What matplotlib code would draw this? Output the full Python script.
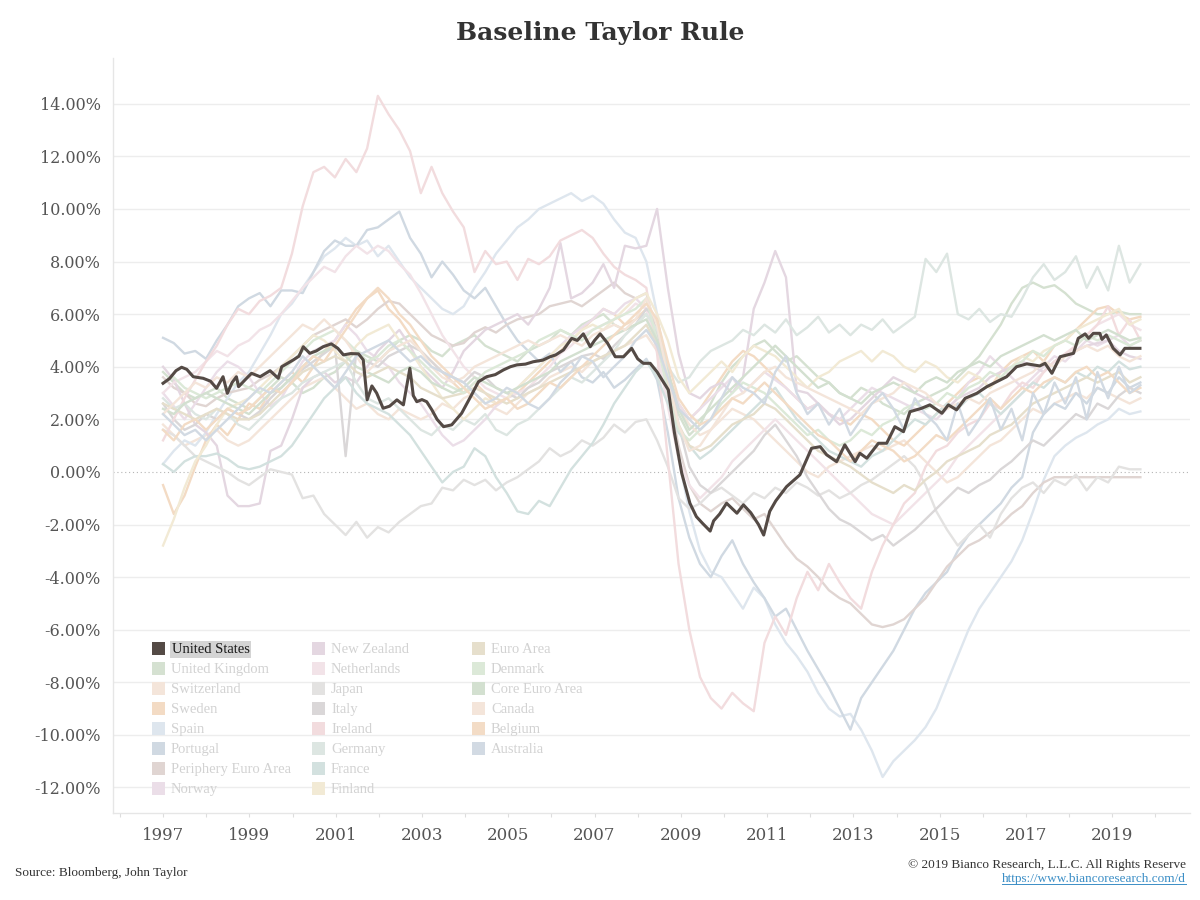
"""Baseline Taylor Rule - US highlighted against 21 faded peer economies."""
import numpy as np
import matplotlib
matplotlib.use("Agg")
import matplotlib.pyplot as plt
from matplotlib.patches import Rectangle
from matplotlib.lines import Line2D

SERIF = ["DejaVu Serif"]
LSERIF = ["Liberation Serif", "DejaVu Serif"]

# --- data (% rates) -----------------------------------------------------
US_YEARS = [1997.00, 1997.15, 1997.30, 1997.43, 1997.55, 1997.70, 1997.93, 1998.10,
            1998.24, 1998.39, 1998.49, 1998.60, 1998.70, 1998.75, 1998.90, 1999.05,
            1999.25, 1999.48, 1999.67, 1999.75, 2000.02, 2000.15, 2000.25, 2000.40,
            2000.55, 2000.71, 2000.90, 2001.05, 2001.18, 2001.35, 2001.53, 2001.64,
            2001.73, 2001.84, 2001.95, 2002.10, 2002.25, 2002.42, 2002.57, 2002.72,
            2002.80, 2002.88, 2003.00, 2003.11, 2003.23, 2003.35, 2003.50, 2003.69,
            2003.92, 2004.15, 2004.31, 2004.50, 2004.70, 2004.89, 2005.05, 2005.20,
            2005.40, 2005.58, 2005.80, 2005.97, 2006.10, 2006.28, 2006.47, 2006.60,
            2006.74, 2006.90, 2007.00, 2007.13, 2007.30, 2007.48, 2007.67, 2007.86,
            2008.00, 2008.13, 2008.29, 2008.45, 2008.71, 2008.85, 2009.02, 2009.21,
            2009.36, 2009.50, 2009.68, 2009.76, 2009.90, 2010.06, 2010.30, 2010.45,
            2010.62, 2010.80, 2010.92, 2011.06, 2011.20, 2011.45, 2011.76, 2012.03,
            2012.23, 2012.38, 2012.61, 2012.80, 2013.04, 2013.15, 2013.31, 2013.58,
            2013.77, 2013.96, 2014.16, 2014.31, 2014.58, 2014.77, 2015.05, 2015.20,
            2015.39, 2015.59, 2015.86, 2016.09, 2016.32, 2016.55, 2016.78, 2017.02,
            2017.32, 2017.44, 2017.60, 2017.79, 2018.10, 2018.21, 2018.37, 2018.45,
            2018.56, 2018.71, 2018.76, 2018.86, 2019.02, 2019.18, 2019.29, 2019.64]
US_VALUES = [3.37, 3.55, 3.85, 3.98, 3.90, 3.62, 3.56, 3.45,
             3.18, 3.62, 2.99, 3.40, 3.62, 3.24, 3.50, 3.75,
             3.62, 3.85, 3.56, 4.00, 4.26, 4.40, 4.76, 4.51,
             4.60, 4.76, 4.87, 4.70, 4.45, 4.50, 4.49, 4.26,
             2.74, 3.27, 3.00, 2.42, 2.50, 2.74, 2.55, 3.94,
             2.90, 2.67, 2.75, 2.67, 2.36, 2.00, 1.72, 1.79,
             2.23, 2.93, 3.43, 3.62, 3.70, 3.88, 4.00, 4.07,
             4.10, 4.19, 4.25, 4.38, 4.45, 4.64, 5.08, 5.00,
             5.25, 4.76, 5.00, 5.25, 4.90, 4.38, 4.38, 4.70,
             4.30, 4.13, 4.13, 3.80, 3.12, 1.50, -0.04, -1.19,
             -1.70, -1.95, -2.25, -1.86, -1.60, -1.19, -1.57, -1.25,
             -1.55, -2.00, -2.40, -1.50, -1.10, -0.56, -0.11, 0.90,
             0.96, 0.65, 0.39, 1.03, 0.39, 0.71, 0.52, 1.09,
             1.09, 1.72, 1.53, 2.29, 2.42, 2.55, 2.23, 2.55,
             2.36, 2.80, 2.99, 3.24, 3.43, 3.62, 4.00, 4.11,
             4.03, 4.13, 3.75, 4.38, 4.51, 5.08, 5.25, 5.08,
             5.27, 5.27, 5.04, 5.21, 4.70, 4.45, 4.70, 4.70]

# peers: quarterly readings, 1997 Q1 .. 2019 Q3 (4 per row = one year)
UNITED_KINGDOM = [3.8, 3.4, 3.0, 2.8,  3.0, 3.2, 2.8, 2.6,  2.4, 2.8, 3.2, 3.6,  3.4, 3.0, 3.2, 3.6,
                  3.8, 4.2, 4.6, 4.4,  4.2, 4.6, 5.0, 5.2,  5.0, 4.6, 4.4, 4.8,  5.0, 5.2, 4.8, 4.6,
                  4.4, 4.2, 4.6, 4.8,  5.0, 5.4, 5.2, 5.6,  5.8, 6.0, 5.6, 5.4,  5.6, 6.0, 5.2, 3.6,
                  2.2, 1.4, 1.8, 2.6,  3.4, 4.0, 4.4, 4.8,  5.0, 4.6, 4.2, 4.4,  4.0, 3.6, 3.4, 3.0,
                  2.8, 3.2, 3.0, 2.6,  2.4, 2.2, 2.6, 2.8,  3.0, 3.2, 3.6, 4.0,  4.4, 5.0, 5.6, 6.4,
                  7.0, 7.2, 7.0, 7.1,  6.8, 6.4, 6.2, 6.0,  6.0, 6.1, 6.0, 6.0]
SWITZERLAND = [1.8, 1.4, 1.0, 1.2,  1.4, 1.6, 1.2, 1.0,  1.2, 1.6, 2.0, 2.4,  2.8, 3.2, 3.4, 3.6,
               3.2, 2.8, 2.4, 2.6,  2.2, 2.0, 2.4, 2.2,  2.0, 2.2, 2.6, 2.4,  2.8, 3.0, 2.6, 2.4,
               2.2, 2.6, 3.0, 3.2,  3.6, 3.8, 4.0, 3.8,  4.2, 4.4, 4.6, 4.8,  5.0, 5.2, 4.6, 3.6,
               2.4, 1.8, 1.4, 1.6,  2.0, 2.4, 2.2, 2.0,  1.6, 1.2, 0.8, 0.4,  0.0, -0.2, 0.2, 0.4,
               0.6, 0.8, 1.0, 0.8,  1.0, 1.2, 0.8, 0.4,  0.0, -0.4, -0.2, 0.2,  0.6, 1.0, 1.2, 1.6,
               2.0, 2.4, 2.2, 2.6,  2.8, 3.0, 2.8, 3.2,  3.0, 2.8, 2.6, 2.8]
SWEDEN = [-0.5, -1.6, -0.9, 0.2,  1.2, 1.8, 1.4, 2.0,  2.6, 2.4, 3.0, 3.4,  3.8, 3.4, 4.0, 4.6,
          5.0, 5.6, 6.2, 6.6,  6.9, 6.2, 5.8, 5.2,  4.6, 4.2, 3.8, 3.4,  3.0, 3.4, 3.0, 2.6,
          2.8, 3.0, 3.4, 3.8,  4.2, 4.6, 5.0, 5.4,  5.8, 6.2, 6.0, 5.6,  5.8, 6.2, 5.4, 3.8,
          2.6, 2.0, 2.4, 3.0,  3.6, 4.2, 4.6, 4.4,  4.0, 3.6, 3.2, 2.8,  2.4, 2.6, 2.2, 2.0,
          1.8, 2.2, 2.0, 1.6,  1.2, 1.0, 1.4, 1.8,  2.2, 2.6, 3.0, 3.4,  3.6, 3.2, 3.8, 4.2,
          4.4, 4.6, 4.2, 4.8,  5.0, 5.4, 5.8, 6.2,  6.3, 6.0, 5.8, 5.9]
SPAIN = [0.3, 0.8, 1.2, 1.0,  1.5, 2.2, 2.8, 3.4,  3.8, 4.5, 5.2, 6.0,  6.4, 7.0, 7.6, 8.2,
         8.5, 8.9, 8.6, 8.8,  8.2, 8.6, 8.0, 7.4,  7.0, 6.6, 6.2, 6.0,  6.3, 7.0, 7.6, 8.3,
         8.8, 9.3, 9.6, 10.0,  10.2, 10.4, 10.6, 10.3,  10.5, 10.2, 9.6, 9.1,  8.9, 8.0, 6.0, 3.0,
         0.5, -1.5, -3.0, -3.8,  -4.0, -4.6, -5.2, -4.4,  -4.8, -5.8, -6.5, -7.0,  -7.6, -8.4, -9.0, -9.3,
         -9.2, -9.8, -10.6, -11.6,  -11.0, -10.6, -10.2, -9.7,  -9.0, -8.0, -7.0, -6.0,  -5.2, -4.6, -4.0, -3.4,
         -2.6, -1.5, -0.3, 0.6,  1.0, 1.3, 1.5, 1.8,  2.0, 2.4, 2.2, 2.3]
PORTUGAL = [5.1, 4.9, 4.5, 4.6,  4.3, 5.0, 5.6, 6.3,  6.6, 6.8, 6.3, 6.9,  6.9, 6.8, 7.6, 8.4,
            8.8, 8.6, 8.6, 9.2,  9.3, 9.6, 9.9, 8.9,  8.3, 7.4, 8.0, 7.5,  6.9, 6.6, 7.0, 6.3,
            5.6, 5.0, 4.6, 4.2,  4.5, 3.8, 4.2, 3.6,  3.4, 3.8, 3.2, 3.5,  3.9, 4.3, 3.5, 1.5,
            -1.0, -2.5, -3.5, -4.0,  -3.2, -2.6, -3.5, -4.2,  -4.8, -5.5, -5.2, -6.0,  -6.8, -7.5, -8.2, -9.0,
            -9.8, -8.6, -8.0, -7.4,  -6.8, -6.0, -5.2, -4.6,  -4.2, -3.8, -3.0, -2.4,  -2.0, -1.6, -1.2, -0.6,
            -0.2, 1.5, 2.2, 2.6,  2.4, 3.0, 2.6, 3.2,  3.0, 3.6, 3.2, 3.4]
PERIPHERY_EURO_AREA = [3.6, 3.2, 3.0, 2.6,  2.5, 2.8, 3.0, 3.1,  3.2, 3.5, 3.7, 4.0,  4.4, 4.8, 5.2, 5.4,
                       5.6, 5.8, 5.5, 5.8,  6.2, 6.5, 6.4, 6.0,  5.6, 5.2, 5.0, 4.8,  4.9, 5.3, 5.5, 5.3,
                       5.6, 5.8, 5.9, 6.0,  6.3, 6.4, 6.5, 6.3,  6.6, 6.9, 7.2, 6.8,  6.6, 6.8, 5.2, 3.0,
                       1.0, -0.5, -1.2, -1.5,  -1.2, -1.0, -1.4, -1.8,  -1.6, -2.2, -2.8, -3.3,  -3.6, -4.0, -4.5, -4.8,
                       -5.0, -5.4, -5.8, -5.9,  -5.8, -5.6, -5.2, -4.8,  -4.2, -3.6, -3.2, -2.8,  -2.6, -2.3, -2.0, -1.6,
                       -1.3, -0.8, -0.4, -0.2,  -0.2, -0.2, -0.2, -0.2,  -0.2, -0.2, -0.2, -0.2]
NORWAY = [3.0, 2.5, 2.0, 2.6,  3.2, 3.8, 4.2, 4.0,  3.6, 3.0, 2.5, 2.8,  3.5, 4.2, 4.6, 4.8,
          5.0, 5.6, 5.2, 4.6,  4.3, 4.0, 3.4, 3.0,  2.6, 2.0, 1.4, 1.0,  1.2, 1.6, 2.0, 2.5,
          2.8, 3.2, 3.6, 4.0,  4.4, 4.8, 5.2, 5.5,  5.8, 6.2, 6.0, 6.4,  6.6, 6.2, 5.0, 3.6,
          2.6, 2.0, 2.4, 2.8,  3.2, 3.6, 3.0, 3.4,  3.8, 3.5, 3.2, 2.8,  2.4, 2.6, 2.2, 2.0,
          2.4, 2.8, 3.2, 3.0,  2.8, 2.6, 2.4, 2.2,  2.0, 2.4, 2.8, 3.4,  3.8, 4.4, 4.0, 3.6,
          3.2, 3.6, 4.0, 4.4,  4.2, 4.6, 5.0, 4.8,  5.0, 5.2, 4.8, 5.0]
NEW_ZEALAND = [4.0, 3.5, 2.6, 1.8,  1.5, 1.0, -0.9, -1.3,  -1.3, -1.2, 0.8, 1.0,  2.0, 3.2, 3.6, 3.8,
               3.4, 3.6, 3.4, 4.0,  4.6, 5.0, 5.4, 4.8,  4.0, 3.6, 3.2, 3.8,  4.6, 5.0, 5.4, 5.6,
               5.8, 6.0, 5.6, 6.2,  7.0, 8.7, 6.6, 6.8,  7.2, 7.9, 7.0, 8.6,  8.5, 8.6, 10.0, 7.0,
               4.5, 3.0, 2.8, 3.2,  3.4, 3.0, 3.6, 6.2,  7.2, 8.4, 7.4, 3.1,  3.0, 2.6, 2.2, 1.8,
               2.0, 2.4, 2.8, 3.2,  3.6, 3.4, 3.0, 2.8,  2.6, 2.4, 2.8, 3.0,  3.2, 3.6, 3.8, 4.0,
               4.2, 4.0, 3.8, 4.2,  4.4, 4.6, 4.8, 4.9,  5.0, 4.6, 4.4, 4.3]
NETHERLANDS = [3.0, 3.4, 3.6, 3.8,  4.2, 4.6, 4.4, 4.8,  5.0, 5.4, 5.6, 6.0,  6.5, 7.0, 7.4, 7.8,
               7.6, 8.2, 8.6, 8.3,  8.6, 8.4, 7.9, 7.5,  6.8, 6.0, 5.2, 4.6,  4.0, 3.6, 3.2, 3.0,
               2.8, 3.0, 3.2, 3.6,  4.0, 4.5, 4.8, 5.2,  5.4, 5.6, 5.8, 6.0,  6.4, 6.2, 4.6, 2.5,
               0.5, -0.5, -1.0, -0.6,  -0.2, 0.4, 0.8, 1.2,  1.6, 2.0, 1.6, 1.2,  0.8, 0.4, 0.0, -0.4,
               -0.8, -1.2, -1.6, -1.8,  -2.0, -1.6, -1.2, -0.8,  -0.4, 0.0, 0.6, 1.0,  1.4, 1.8, 2.2, 2.6,
               3.0, 3.4, 3.8, 4.2,  4.4, 4.8, 5.2, 5.6,  5.8, 6.0, 5.6, 5.4]
JAPAN = [1.6, 1.4, 1.0, 0.6,  0.4, 0.2, 0.0, -0.3,  -0.5, -0.2, 0.1, 0.0,  -0.1, -1.0, -0.9, -1.6,
         -2.0, -2.4, -1.9, -2.5,  -2.1, -2.3, -1.9, -1.6,  -1.3, -1.2, -0.6, -0.7,  -0.3, -0.5, -0.3, -0.7,
         -0.4, -0.2, 0.1, 0.4,  0.9, 0.6, 0.8, 1.2,  1.0, 1.3, 1.8, 1.5,  1.9, 2.0, 1.2, 0.2,
         -1.0, -1.4, -1.2, -0.8,  -0.6, -0.9, -1.2, -0.8,  -1.0, -0.6, -0.8, -0.4,  -0.6, -0.9, -0.7, -1.0,
         -0.8, -0.5, -0.3, 0.0,  0.3, 0.6, 0.2, -0.5,  -1.5, -2.2, -2.8, -2.4,  -2.0, -2.5, -1.6, -1.0,
         -0.6, -0.4, -0.8, -0.3,  -0.5, -0.1, -0.7, -0.2,  -0.4, 0.2, 0.1, 0.1]
ITALY = [2.6, 2.0, 1.6, 1.8,  2.2, 2.0, 2.4, 2.2,  2.0, 2.3, 2.8, 3.2,  3.6, 3.9, 4.2, 4.5,
         4.8, 0.6, 4.6, 4.2,  4.0, 4.4, 4.6, 4.8,  4.6, 4.2, 3.8, 3.6,  3.4, 3.8, 3.6, 3.2,
         3.0, 2.8, 3.2, 3.4,  3.8, 4.0, 4.2, 4.4,  4.5, 4.3, 4.8, 5.2,  5.6, 6.2, 5.8, 4.0,
         1.8, 0.2, -0.5, -0.8,  -0.4, 0.0, 0.4, 0.8,  1.4, 1.8, 1.2, 0.6,  -0.2, -0.8, -1.4, -1.8,
         -2.0, -2.3, -2.6, -2.4,  -2.8, -2.5, -2.2, -1.8,  -1.4, -1.0, -0.6, -0.8,  -0.5, -0.3, 0.1, 0.4,
         0.8, 1.2, 1.0, 1.4,  1.8, 2.2, 2.0, 2.6,  2.4, 2.9, 3.2, 3.0]
IRELAND = [1.2, 2.0, 2.8, 3.5,  4.2, 4.8, 5.6, 6.2,  6.0, 6.5, 6.7, 7.0,  8.3, 10.1, 11.4, 11.6,
           11.2, 11.9, 11.4, 12.3,  14.3, 13.6, 13.0, 12.2,  10.6, 11.6, 10.6, 9.9,  9.3, 7.6, 8.4, 7.9,
           8.0, 7.3, 8.1, 7.9,  8.2, 8.8, 9.0, 9.2,  8.9, 8.3, 7.8, 7.5,  7.3, 7.0, 4.5, 0.5,
           -3.5, -6.0, -7.8, -8.6,  -9.0, -8.4, -8.8, -9.1,  -6.5, -5.5, -6.2, -4.8,  -3.8, -4.5, -3.5, -4.2,
           -4.8, -5.2, -3.8, -2.8,  -2.0, -1.2, -0.8, 0.2,  0.8, 1.0, 1.5, 1.8,  2.0, 2.6, 2.4, 3.0,
           3.4, 3.2, 3.8, 4.2,  4.5, 4.8, 5.2, 5.6,  6.3, 5.2, 5.8, 5.0]
GERMANY = [2.8, 2.4, 2.6, 2.2,  2.0, 2.4, 2.2, 1.8,  1.6, 2.0, 2.4, 2.8,  3.0, 3.4, 3.6, 3.8,
           4.0, 4.2, 3.4, 2.8,  2.6, 2.8, 2.4, 2.0,  1.6, 1.4, 1.8, 1.6,  2.0, 1.8, 2.2, 1.6,
           1.4, 1.8, 2.0, 2.4,  2.8, 3.2, 3.6, 3.4,  3.8, 4.2, 4.6, 5.2,  5.6, 6.0, 5.4, 4.0,
           3.4, 3.6, 4.2, 4.6,  4.8, 5.0, 5.4, 5.2,  5.6, 5.3, 5.8, 5.2,  5.5, 5.9, 5.3, 5.6,
           5.2, 5.6, 5.4, 5.8,  5.3, 5.6, 5.9, 8.1,  7.6, 8.3, 6.0, 5.8,  6.2, 5.7, 6.0, 5.9,
           6.6, 7.4, 7.9, 7.3,  7.6, 8.2, 7.0, 7.8,  6.9, 8.6, 7.2, 7.9]
FRANCE = [0.3, 0.0, 0.4, 0.6,  0.6, 0.7, 0.5, 0.2,  0.1, 0.2, 0.4, 0.6,  1.0, 1.6, 2.2, 2.8,
          3.2, 3.6, 3.0, 2.6,  2.4, 2.2, 1.8, 1.4,  0.8, 0.2, -0.4, 0.0,  0.2, 0.9, 0.6, -0.2,
          -0.8, -1.5, -1.6, -1.1,  -1.3, -0.6, 0.1, 0.6,  1.1, 1.8, 2.6, 3.2,  3.8, 4.2, 3.6, 2.6,
          1.5, 1.0, 0.5, 0.8,  1.2, 1.6, 2.0, 2.4,  2.8, 3.2, 2.6, 2.0,  1.6, 1.2, 0.8, 0.6,
          0.4, 0.2, 0.6, 0.8,  1.2, 1.6, 2.0, 1.8,  2.2, 2.6, 2.4, 2.8,  3.0, 2.6, 2.2, 2.6,
          3.0, 3.4, 3.2, 3.6,  3.4, 3.8, 3.6, 4.0,  3.8, 4.2, 3.9, 4.0]
FINLAND = [-2.8, -1.8, -0.6, 0.4,  1.0, 1.8, 2.4, 2.6,  2.8, 3.2, 3.6, 4.0,  4.4, 4.8, 5.2, 5.0,
           4.6, 4.2, 4.8, 5.2,  5.4, 5.6, 5.0, 4.6,  4.0, 3.4, 2.8, 2.4,  2.0, 2.4, 2.8, 2.6,
           2.8, 3.2, 3.6, 4.0,  4.4, 4.8, 5.0, 5.4,  5.6, 5.4, 5.8, 6.2,  6.6, 6.8, 6.0, 5.0,
           3.6, 3.0, 3.4, 3.8,  4.2, 3.8, 4.4, 4.8,  4.6, 4.4, 4.0, 3.6,  3.2, 3.6, 3.8, 4.2,
           4.4, 4.6, 4.2, 4.6,  4.4, 4.0, 3.8, 4.2,  4.0, 3.6, 3.4, 3.8,  3.6, 3.2, 3.6, 4.0,
           4.4, 4.2, 4.6, 4.8,  5.0, 5.4, 5.6, 5.8,  6.0, 6.2, 5.6, 5.8]
EURO_AREA = [2.6, 2.4, 2.2, 2.0,  2.2, 2.4, 2.2, 2.0,  2.0, 2.2, 2.6, 3.0,  3.4, 3.8, 4.0, 4.2,
             4.4, 4.2, 3.8, 3.6,  3.8, 4.0, 3.8, 3.6,  3.2, 3.0, 2.8, 2.9,  3.0, 3.2, 3.0, 2.8,
             2.6, 2.8, 3.0, 3.2,  3.4, 3.6, 3.8, 4.0,  4.2, 4.4, 4.6, 4.8,  5.2, 5.6, 4.8, 3.4,
             1.8, 1.0, 0.8, 1.0,  1.4, 1.8, 2.0, 2.2,  2.6, 2.4, 2.0, 1.6,  1.2, 0.8, 0.6, 0.4,
             0.2, -0.1, -0.4, -0.6,  -0.8, -0.5, -0.7, -0.3,  0.0, 0.4, 0.6, 0.8,  1.0, 1.4, 1.6, 1.8,
             2.2, 2.6, 2.8, 3.0,  3.2, 3.4, 3.6, 3.4,  3.6, 3.8, 3.4, 3.6]
DENMARK = [3.4, 3.6, 3.2, 3.0,  2.8, 3.0, 3.2, 3.4,  3.2, 3.0, 3.4, 3.8,  4.2, 4.6, 5.0, 5.2,
           5.4, 5.0, 4.6, 4.2,  4.4, 4.8, 5.0, 4.6,  4.2, 3.8, 3.4, 3.2,  3.0, 3.4, 3.8, 4.0,
           4.2, 4.4, 4.6, 5.0,  5.2, 5.4, 5.2, 5.0,  5.4, 5.6, 5.8, 6.0,  6.2, 6.6, 5.0, 3.0,
           1.6, 1.2, 1.6, 2.0,  2.6, 3.0, 3.4, 3.2,  3.0, 2.6, 2.2, 1.8,  1.4, 1.6, 1.2, 1.0,
           1.2, 1.6, 1.4, 1.8,  2.0, 2.4, 2.6, 2.4,  2.6, 3.0, 2.8, 3.2,  3.4, 3.8, 3.6, 4.0,
           4.2, 4.6, 4.4, 4.8,  5.0, 4.8, 5.2, 5.0,  5.2, 5.0, 4.8, 5.0]
CORE_EURO_AREA = [2.4, 2.2, 2.6, 2.8,  3.0, 2.8, 2.6, 2.4,  2.2, 2.6, 3.0, 3.2,  3.6, 4.0, 4.4, 4.6,
                  4.8, 4.4, 4.0, 3.8,  3.6, 3.4, 3.8, 4.0,  3.8, 3.4, 3.2, 3.0,  3.2, 3.6, 3.4, 3.2,
                  3.0, 3.2, 3.4, 3.6,  3.8, 4.2, 4.4, 4.6,  4.8, 5.0, 5.2, 5.4,  5.6, 5.8, 5.0, 3.8,
                  2.4, 1.6, 2.0, 2.4,  2.8, 3.2, 3.6, 4.0,  4.4, 4.8, 4.4, 4.0,  3.6, 3.2, 3.4, 3.0,
                  2.8, 2.6, 3.0, 3.2,  3.4, 3.2, 3.0, 3.4,  3.6, 3.4, 3.8, 4.0,  4.2, 4.0, 4.4, 4.6,
                  4.8, 5.0, 5.2, 5.0,  5.2, 5.4, 5.0, 5.2,  5.4, 5.2, 5.0, 5.1]
CANADA = [2.2, 2.6, 3.0, 3.4,  3.2, 3.6, 3.4, 3.8,  3.6, 4.0, 4.4, 4.8,  5.2, 5.6, 5.4, 5.8,
          5.4, 5.0, 4.4, 3.8,  4.2, 4.6, 4.8, 5.0,  4.6, 4.0, 3.6, 3.4,  3.6, 4.0, 4.2, 4.4,
          4.6, 4.8, 5.0, 4.8,  5.0, 5.2, 5.0, 4.8,  5.2, 5.4, 5.6, 5.4,  5.8, 6.6, 5.6, 3.6,
          1.8, 0.8, 1.0, 1.6,  2.2, 2.8, 3.0, 3.4,  3.8, 4.0, 3.6, 3.4,  3.2, 3.0, 2.8, 2.6,
          2.4, 2.2, 2.6, 2.8,  3.0, 3.4, 3.2, 3.0,  2.6, 2.4, 2.6, 2.8,  2.6, 3.0, 3.2, 3.4,
          3.6, 3.8, 4.2, 4.0,  4.4, 4.6, 4.8, 4.6,  4.8, 4.4, 4.2, 4.4]
BELGIUM = [1.6, 1.2, 1.8, 2.0,  1.6, 2.0, 2.4, 2.2,  2.4, 2.8, 3.2, 3.0,  3.4, 4.0, 4.4, 4.2,
           4.8, 5.4, 6.0, 6.6,  7.0, 6.6, 6.0, 5.6,  5.0, 4.4, 4.0, 3.6,  3.2, 2.8, 2.4, 2.6,
           2.8, 2.4, 2.6, 3.0,  3.4, 3.2, 3.6, 4.0,  4.4, 4.8, 5.2, 5.6,  6.0, 6.4, 5.8, 4.2,
           2.8, 2.2, 1.8, 2.0,  2.4, 2.8, 2.6, 3.0,  3.4, 3.0, 2.6, 2.2,  1.8, 1.4, 1.2, 0.8,
           0.4, 0.8, 1.2, 1.0,  0.8, 0.4, 0.6, 1.0,  1.4, 1.2, 1.6, 2.0,  2.4, 2.8, 2.4, 2.8,
           3.2, 3.0, 3.4, 3.6,  3.4, 3.8, 4.0, 3.6,  3.8, 3.4, 3.0, 3.2]
AUSTRALIA = [2.2, 1.8, 1.4, 1.6,  1.2, 1.6, 2.0, 2.4,  2.8, 3.2, 3.0, 3.4,  3.8, 4.4, 4.0, 3.6,
             3.2, 3.8, 4.4, 4.6,  4.8, 5.0, 4.6, 4.2,  4.4, 4.0, 3.8, 3.6,  3.4, 3.0, 2.6, 2.8,
             3.2, 3.0, 2.6, 2.4,  2.8, 3.4, 3.8, 4.4,  4.2, 3.6, 4.0, 4.4,  5.0, 5.4, 4.8, 3.6,
             2.4, 2.0, 1.6, 2.0,  2.8, 3.6, 3.2, 3.0,  2.6, 3.8, 4.4, 3.0,  2.2, 2.6, 1.8, 2.4,
             1.4, 2.0, 2.6, 3.0,  2.4, 1.6, 2.8, 2.2,  1.8, 1.2, 2.6, 1.4,  2.0, 2.8, 1.6, 2.4,
             1.2, 3.0, 2.2, 3.4,  2.6, 3.6, 2.0, 3.8,  2.8, 4.0, 3.0, 3.3]

QUARTERS = np.linspace(1997.0, 2019.65, 92)

# legend order (column-major, 8 rows) with faded Tableau-like colours
PEERS = [
    ("United Kingdom", UNITED_KINGDOM, "#d5e1d1"),
    ("Switzerland", SWITZERLAND, "#f4e5da"),
    ("Sweden", SWEDEN, "#f3dbc4"),
    ("Spain", SPAIN, "#dee6ee"),
    ("Portugal", PORTUGAL, "#d0d9e2"),
    ("Periphery Euro Area", PERIPHERY_EURO_AREA, "#e0d5d2"),
    ("Norway", NORWAY, "#ebdee8"),
    ("New Zealand", NEW_ZEALAND, "#e4d7e1"),
    ("Netherlands", NETHERLANDS, "#f2e3e8"),
    ("Japan", JAPAN, "#e3e2e1"),
    ("Italy", ITALY, "#dad7d8"),
    ("Ireland", IRELAND, "#f2dcde"),
    ("Germany", GERMANY, "#dde6e2"),
    ("France", FRANCE, "#d3e1df"),
    ("Finland", FINLAND, "#f2ead5"),
    ("Euro Area", EURO_AREA, "#e6dfcc"),
    ("Denmark", DENMARK, "#dce9d8"),
    ("Core Euro Area", CORE_EURO_AREA, "#d3e0d0"),
    ("Canada", CANADA, "#f4e5da"),
    ("Belgium", BELGIUM, "#f3dcc6"),
    ("Australia", AUSTRALIA, "#d2dae3"),
]
US_COLOR = "#544a45"

Y_TICKS = [14, 12, 10, 8, 6, 4, 2, 0, -2, -4, -6, -8, -10, -12]
X_LABEL_YEARS = [1997, 1999, 2001, 2003, 2005, 2007, 2009, 2011, 2013, 2015, 2017, 2019]
X_MINOR_YEARS = list(range(1996, 2021))

W, H = 1200, 900


def fx(px):
    return px / W


def fy(py):
    return 1 - py / H


def draw_legend(fig):
    names = ["United States"] + [p[0] for p in PEERS]
    colors = [US_COLOR] + [p[2] for p in PEERS]
    for i, (name, col) in enumerate(zip(names, colors)):
        c, r = divmod(i, 8)
        yc = 648 + 20 * r
        x0 = 152 + 160 * c
        fig.patches.append(Rectangle((fx(x0), fy(yc + 6.5)), fx(13), 13 / H,
                                     transform=fig.transFigure, facecolor=col,
                                     edgecolor="none", zorder=5))
        # baseline sits ~5px under the swatch centre so caps line up with it
        if i == 0:
            fig.text(fx(x0 + 20), fy(yc + 5), name, family=LSERIF, fontsize=10.5,
                     color="#1a1a1a", va="baseline", ha="left", zorder=6,
                     bbox=dict(facecolor="#d4d4d4", edgecolor="none", pad=1.2))
        else:
            fig.text(fx(x0 + 19), fy(yc + 5), name, family=LSERIF, fontsize=10.5,
                     color="#d2d2d2", va="baseline", ha="left", zorder=6)


def main():
    fig = plt.figure(figsize=(W / 100, H / 100), dpi=100)
    ax = fig.add_axes([fx(113), fy(813), fx(1190 - 113), (813 - 58) / H])

    for v in Y_TICKS:
        if v == 0:
            ax.axhline(0, color="#b5b5b5", lw=0.8, ls=(0, (1, 2.5)), zorder=1)
        else:
            ax.axhline(v, color="#ededed", lw=1.0, zorder=0)

    for name, vals, col in PEERS:
        ax.plot(QUARTERS, vals, color=col, lw=1.7, solid_joinstyle="round", zorder=2)
    ax.plot(US_YEARS, US_VALUES, color=US_COLOR, lw=2.2, solid_joinstyle="round", zorder=4)

    ax.set_xlim(1995.84, 2020.80)
    ax.set_ylim(-12.97, 15.74)

    ax.set_yticks(Y_TICKS)
    ax.set_yticklabels([f"{v:.2f}%" for v in Y_TICKS], family=SERIF, fontsize=11.5,
                       color="#555555")
    ax.tick_params(axis="y", length=0, pad=9)

    ax.set_xticks(X_LABEL_YEARS)
    ax.set_xticklabels([str(y) for y in X_LABEL_YEARS], family=SERIF, fontsize=12,
                       color="#555555")
    ax.set_xticks(X_MINOR_YEARS, minor=True)
    ax.tick_params(axis="x", which="both", length=3, width=0.8, color="#dddddd", pad=7)

    for s in ("top", "right"):
        ax.spines[s].set_visible(False)
    for s in ("left", "bottom"):
        ax.spines[s].set_color("#e6e6e6")
        ax.spines[s].set_linewidth(1.0)

    fig.text(0.5, fy(33), "Baseline Taylor Rule", family=SERIF, fontsize=18,
             fontweight="bold", color="#333333", ha="center", va="center")

    draw_legend(fig)

    fig.text(fx(15), fy(873), "Source: Bloomberg, John Taylor", family=LSERIF,
             fontsize=9.5, color="#333333", va="center")
    fig.text(fx(1186), fy(865), "\u00a9 2019 Bianco Research, L.L.C. All Rights Reserve",
             family=LSERIF, fontsize=9.5, color="#333333", ha="right", va="center")
    link = fig.text(fx(1186), fy(879), "https://www.biancoresearch.com/d", family=LSERIF,
                    fontsize=9.5, color="#3b8ec6", ha="right", va="center")

    fig.canvas.draw()
    bb = link.get_window_extent()
    fig.lines.append(Line2D([bb.x0 / W, bb.x1 / W], [(bb.y0 + 1) / H] * 2,
                            transform=fig.transFigure, color="#3b8ec6", lw=0.7))

    fig.savefig("out.png", dpi=100)


if __name__ == "__main__":
    main()
